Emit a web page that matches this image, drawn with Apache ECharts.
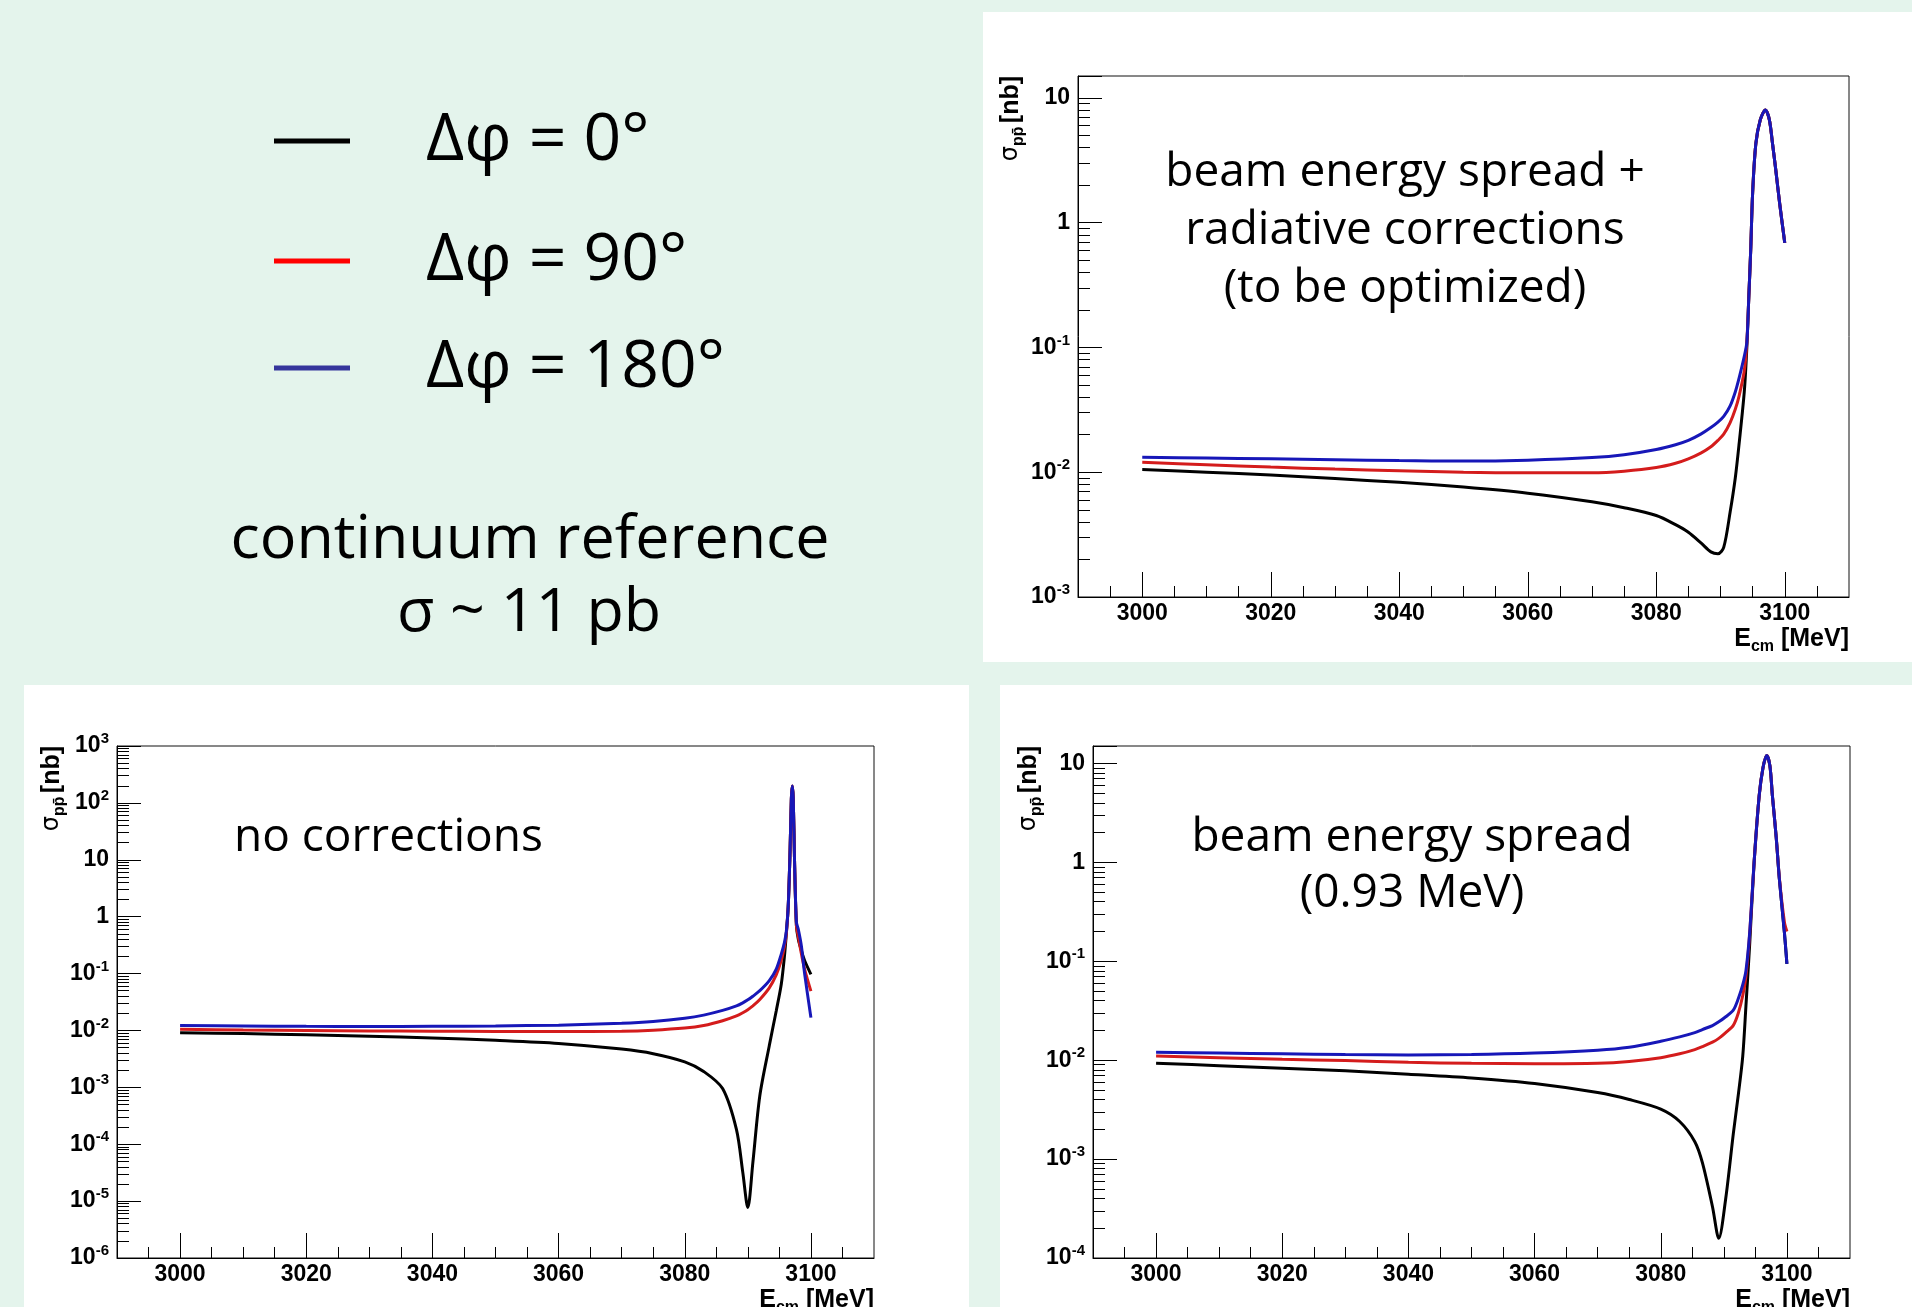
<!DOCTYPE html>
<html>
<head>
<meta charset="utf-8">
<script src="https://cdn.jsdelivr.net/npm/echarts@6.0.0/dist/echarts.min.js"></script>
<style>
  html, body { margin: 0; padding: 0; background: #e4f4ec; }
  #chart { width: 1912px; height: 1307px; }
</style>
</head>
<body>
<div id="chart"></div>
<script>
// tick labels
const xMajor = [3000, 3020, 3040, 3060, 3080, 3100];
const xMinor = [2995, 3005, 3010, 3015, 3025, 3030, 3035, 3045, 3050, 3055, 3065, 3070, 3075, 3085, 3090, 3095, 3105];
const legendNames = ['Δφ = 0°', 'Δφ = 90°', 'Δφ = 180°'];

// top right: beam energy spread + radiative corrections
const eTR = [3000, 3010, 3020, 3030, 3040, 3050, 3060, 3070, 3075, 3080, 3083, 3085, 3087, 3088.5, 3089.6, 3090.5, 3091.5, 3092.3, 3092.9, 3093.7, 3094.1, 3094.4, 3094.7, 3095, 3095.5, 3096.2, 3097, 3097.6, 3098.1, 3098.6, 3099.2, 3100];
const blackTR = [0.0105, 0.0100, 0.0095, 0.0089, 0.0083, 0.0076, 0.0068, 0.0058, 0.0052, 0.0045, 0.0038, 0.0033, 0.0027, 0.0023, 0.00222, 0.0025, 0.0048, 0.009, 0.017, 0.044, 0.1, 0.25, 0.6, 1.73, 4.3, 6.7, 8.0, 6.7, 4.3, 2.66, 1.44, 0.69];
const redTR = [0.0120, 0.0115, 0.0110, 0.0106, 0.0103, 0.0100, 0.0099, 0.0099, 0.0102, 0.0109, 0.0118, 0.0128, 0.0143, 0.0160, 0.0180, 0.0202, 0.025, 0.032, 0.041, 0.065, 0.11, 0.25, 0.6, 1.73, 4.3, 6.7, 8.0, 6.7, 4.3, 2.66, 1.44, 0.69];
const blueTR = [0.0132, 0.0130, 0.0128, 0.0126, 0.0124, 0.0123, 0.0125, 0.0131, 0.0138, 0.0152, 0.0166, 0.0180, 0.0203, 0.0228, 0.0252, 0.0280, 0.034, 0.044, 0.057, 0.085, 0.11, 0.25, 0.6, 1.73, 4.3, 6.7, 8.0, 6.7, 4.3, 2.66, 1.44, 0.69];

// bottom left: no corrections
const eBL = [3000, 3010, 3020, 3030, 3040, 3050, 3060, 3070, 3075, 3080, 3083, 3086, 3088.2, 3089.2, 3090, 3090.8, 3091.9, 3093.4, 3094.5, 3095.3, 3095.8, 3096.1, 3096.4, 3096.7, 3096.9, 3097.05, 3097.2, 3097.4, 3097.7, 3098, 3098.5, 3099, 3100];
const blackBL = [0.0091, 0.0088, 0.0084, 0.0079, 0.0074, 0.0067, 0.0059, 0.0047, 0.0039, 0.0028, 0.0019, 0.00095, 0.00018, 0.000032, 0.0000077, 0.000048, 0.00071, 0.0054, 0.022, 0.065, 0.2, 0.5, 1.5, 15, 120, 198, 120, 10, 0.7, 0.4, 0.25, 0.17, 0.097];
const redBL = [0.0105, 0.0102, 0.0100, 0.0098, 0.0097, 0.0096, 0.0096, 0.0097, 0.0101, 0.0110, 0.0122, 0.0148, 0.0180, 0.0205, 0.0232, 0.027, 0.035, 0.056, 0.095, 0.17, 0.3, 0.5, 1.5, 15, 120, 198, 120, 10, 0.7, 0.45, 0.22, 0.12, 0.049];
const blueBL = [0.0122, 0.0120, 0.0118, 0.0117, 0.0118, 0.0120, 0.0124, 0.0134, 0.0144, 0.0164, 0.0186, 0.0225, 0.0270, 0.0305, 0.0345, 0.040, 0.050, 0.075, 0.12, 0.22, 0.35, 0.55, 1.5, 15, 120, 198, 120, 10, 0.8, 0.6, 0.3, 0.1, 0.0168];

// bottom right: beam energy spread (0.93 MeV)
const eBR = [3000, 3010, 3020, 3030, 3040, 3050, 3060, 3070, 3075, 3080, 3083, 3085.4, 3086.6, 3088.2, 3089.2, 3090.3, 3091.5, 3092.3, 3093, 3093.5, 3094.1, 3094.8, 3095.6, 3096.2, 3096.8, 3097.3, 3097.7, 3098.3, 3098.8, 3099.6, 3100];
const blackBR = [0.0093, 0.0088, 0.0083, 0.0078, 0.0072, 0.0066, 0.0058, 0.0047, 0.0040, 0.0032, 0.0024, 0.0015, 0.00092, 0.00033, 0.000158, 0.0004, 0.0018, 0.0045, 0.011, 0.035, 0.15, 1.0, 4.7, 9, 12.05, 9.5, 4.7, 1.8, 0.68, 0.196, 0.094];
const redBR = [0.0110, 0.0106, 0.0102, 0.0099, 0.0095, 0.0093, 0.0092, 0.0093, 0.0097, 0.0106, 0.0116, 0.0128, 0.0137, 0.0152, 0.0166, 0.0190, 0.0225, 0.030, 0.045, 0.07, 0.19, 1.0, 4.7, 9, 12.05, 9.5, 4.7, 1.8, 0.7, 0.25, 0.2];
const blueBR = [0.0120, 0.0118, 0.0116, 0.0114, 0.0113, 0.0114, 0.0118, 0.0126, 0.0135, 0.0155, 0.0172, 0.0190, 0.0204, 0.0224, 0.0244, 0.0275, 0.032, 0.042, 0.058, 0.08, 0.196, 1.0, 4.7, 9, 12.05, 9.5, 4.7, 1.8, 0.68, 0.196, 0.094];

const LF = 'Liberation Sans';   // axis font (ROOT helvetica)
const TF = 'Open Sans';         // slide text
const lineColors = ['#000000', '#d41c1c', '#1717b8'];

const panels = [
  { e: eTR, ys: [blackTR, redTR, blueTR], ymin: 1e-3, ymax: 15, box: { left: 1078, top: 76, width: 771, height: 521 }, title: [1012, 76] },
  { e: eBL, ys: [blackBL, redBL, blueBL], ymin: 1e-6, ymax: 1e3, box: { left: 117, top: 746, width: 757, height: 512 }, title: [53, 746] },
  { e: eBR, ys: [blackBR, redBR, blueBR], ymin: 1e-4, ymax: 15, box: { left: 1093, top: 746, width: 757, height: 512 }, title: [1030, 746] }
];

// minor log ticks (2..9 per decade), placed on a log10-valued helper axis
function minorLog(ymin, ymax) {
  const out = [];
  for (let n = Math.floor(Math.log10(ymin)); n <= Math.ceil(Math.log10(ymax)); n++) {
    for (let k = 2; k <= 9; k++) {
      const v = k * Math.pow(10, n);
      if (v > ymin && v < ymax) out.push(Math.log10(v));
    }
  }
  return out;
}

function yLabel(v) {
  const n = Math.round(Math.log10(v));
  if (Math.abs(v / Math.pow(10, n) - 1) > 1e-6) return '';
  if (n === 0) return '{b|1}';
  if (n === 1) return '{b|10}';
  return '{b|10}{e|' + n + '}';
}

const yRich = {
  b: { fontSize: 23, fontWeight: 'bold', fontFamily: LF, color: '#000', lineHeight: 24, verticalAlign: 'middle' },
  e: { fontSize: 15, fontWeight: 'bold', fontFamily: LF, color: '#000', lineHeight: 15, padding: [0, 0, 14, 0], verticalAlign: 'middle' }
};
const nameRich = {
  b: { fontSize: 25, fontWeight: 'bold', fontFamily: LF, color: '#000', lineHeight: 26, verticalAlign: 'top' },
  s: { fontSize: 24, fontFamily: 'DejaVu Sans', color: '#000', lineHeight: 26, verticalAlign: 'top' },
  sub: { fontSize: 16, fontWeight: 'bold', fontFamily: LF, color: '#000', lineHeight: 16, padding: [12, 0, 0, 0], verticalAlign: 'top' }
};

const grids = [], xAxes = [], yAxes = [], series = [], graphics = [];

// white panels
graphics.push({ type: 'rect', z: -100, shape: { x: 983, y: 12, width: 929, height: 650 }, style: { fill: '#ffffff' } });
graphics.push({ type: 'rect', z: -100, shape: { x: 24, y: 685, width: 945, height: 622 }, style: { fill: '#ffffff' } });
graphics.push({ type: 'rect', z: -100, shape: { x: 1000, y: 685, width: 912, height: 622 }, style: { fill: '#ffffff' } });

panels.forEach((p, i) => {
  grids.push(Object.assign({ show: true, borderColor: '#111', borderWidth: 1, backgroundColor: 'transparent' }, p.box));

  xAxes.push({
    gridIndex: i, type: 'value', position: 'bottom', min: 2990, max: 3110,
    axisLine: { show: true, onZero: false, lineStyle: { color: '#000', width: 1 } },
    axisTick: { show: true, inside: true, length: 25, customValues: xMajor, lineStyle: { color: '#000' } },
    axisLabel: { customValues: xMajor, formatter: v => String(v), fontSize: 23, fontWeight: 'bold', fontFamily: LF, color: '#000', margin: 5 },
    splitLine: { show: false }
  });
  xAxes.push({
    gridIndex: i, type: 'value', position: 'bottom', min: 2990, max: 3110,
    axisLine: { show: false, onZero: false },
    axisTick: { show: true, inside: true, length: 11, customValues: xMinor, lineStyle: { color: '#000' } },
    axisLabel: { show: false }, splitLine: { show: false }
  });

  yAxes.push({
    gridIndex: i, type: 'log', logBase: 10, position: 'left', min: p.ymin, max: p.ymax, interval: 1,
    axisLine: { show: true, onZero: false, lineStyle: { color: '#000', width: 1 } },
    axisTick: { show: true, inside: true, length: 24, lineStyle: { color: '#000' } },
    axisLabel: { formatter: yLabel, margin: 8, rich: yRich },
    splitLine: { show: false }
  });
  yAxes.push({
    gridIndex: i, type: 'value', position: 'left', min: Math.log10(p.ymin), max: Math.log10(p.ymax),
    axisLine: { show: false, onZero: false },
    axisTick: { show: true, inside: true, length: 12, customValues: minorLog(p.ymin, p.ymax), lineStyle: { color: '#000' } },
    axisLabel: { show: false }, splitLine: { show: false }
  });

  p.ys.forEach((ys, k) => {
    series.push({
      type: 'line', name: legendNames[k], xAxisIndex: 2 * i, yAxisIndex: 2 * i,
      data: p.e.map((e, j) => [e, ys[j]]),
      showSymbol: false, symbol: 'none', smooth: 0.3,
      lineStyle: { width: 3, color: lineColors[k] }, itemStyle: { color: lineColors[k] },
      animation: false
    });
  });

  // y axis title
  graphics.push({
    type: 'text', x: p.title[0], y: p.title[1], rotation: Math.PI / 2,
    style: { text: '{s|σ}{sub|pp\u0304} {b|[nb]}', align: 'right', textAlign: 'right', verticalAlign: 'middle', textVerticalAlign: 'middle', rich: nameRich }
  });
  // x axis title
  graphics.push({
    type: 'text', x: p.box.left + p.box.width, y: p.box.top + p.box.height + 30,
    style: { text: '{b|E}{sub|cm}{b| [MeV]}', align: 'right', textAlign: 'right', verticalAlign: 'top', textVerticalAlign: 'top', rich: nameRich }
  });
});

// slide texts
function slideText(text, x, y, size, align, lh) {
  return {
    type: 'text', x: x, y: y,
    style: { text: text, fontFamily: TF, fontSize: size, fill: '#000', lineHeight: lh || size * 1.2,
             align: align, textAlign: align, verticalAlign: 'top', textVerticalAlign: 'top' }
  };
}
graphics.push(slideText('continuum reference', 530, 505, 61, 'center', 72));
graphics.push(slideText('σ ~ 11 pb', 529, 578, 61, 'center', 72));
graphics.push(slideText('beam energy spread +\nradiative corrections\n(to be optimized)', 1405, 144, 46, 'center', 58));
graphics.push(slideText('no corrections', 234, 810, 46, 'left', 56));
graphics.push(slideText('beam energy spread\n(0.93 MeV)', 1412, 810, 46, 'center', 56));

const legendColors = ['#000000', '#ff0000', '#35359c'];
const legendTops = [101, 221, 328];
const legends = legendNames.map((n, k) => ({
  left: 274, top: legendTops[k], padding: 0, orient: 'horizontal',
  icon: 'rect', itemWidth: 76, itemHeight: 5, selectedMode: false,
  data: [{ name: n, itemStyle: { color: legendColors[k] } }],
  textStyle: { fontFamily: TF, fontSize: 66, color: '#000', lineHeight: 80, padding: [0, 0, 0, 71] }
}));

const chart = echarts.init(document.getElementById('chart'));
chart.setOption({
  backgroundColor: '#e4f4ec',
  animation: false,
  legend: legends,
  grid: grids,
  xAxis: xAxes,
  yAxis: yAxes,
  series: series,
  graphic: graphics
});
</script>
</body>
</html>
